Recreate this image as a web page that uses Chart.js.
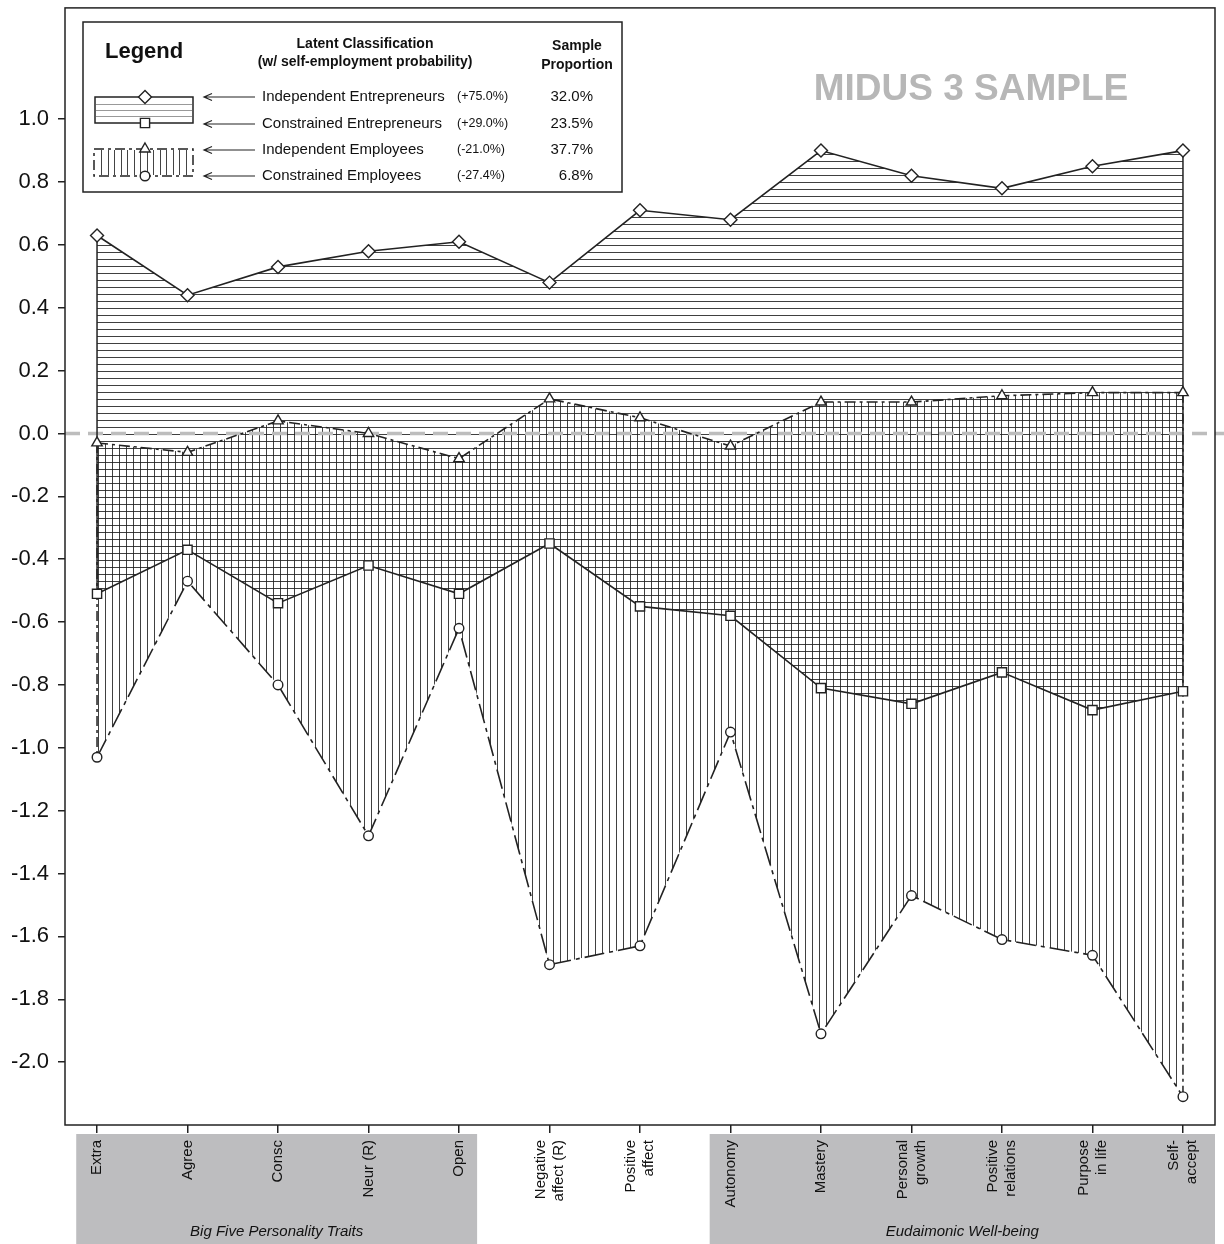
<!DOCTYPE html>
<html>
<head>
<meta charset="utf-8">
<title>MIDUS 3 latent profiles</title>
<script src="https://cdn.jsdelivr.net/npm/chart.js@4.4.0/dist/chart.umd.min.js"></script>
<style>
  html, body { margin: 0; padding: 0; background: #fff; }
  #wrap { width: 1224px; height: 1244px; position: relative; }
</style>
</head>
<body>
<div id="wrap"><canvas id="profileChart"></canvas></div>
<script>
// categories (x axis), multi-line where the original wraps
const categories = [
  ['Extra'], ['Agree'], ['Consc'], ['Neur (R)'], ['Open'],
  ['Negative', 'affect (R)'], ['Positive', 'affect'],
  ['Autonomy'], ['Mastery'], ['Personal', 'growth'], ['Positive', 'relations'],
  ['Purpose', 'in life'], ['Self-', 'accept']
];

// profile means per latent class
const indepEntrepreneurs  = [0.63, 0.44, 0.53, 0.58, 0.61, 0.48, 0.71, 0.68, 0.90, 0.82, 0.78, 0.85, 0.90];
const constrEntrepreneurs = [-0.51, -0.37, -0.54, -0.42, -0.51, -0.35, -0.55, -0.58, -0.81, -0.86, -0.76, -0.88, -0.82];
const indepEmployees      = [-0.03, -0.06, 0.04, 0.00, -0.08, 0.11, 0.05, -0.04, 0.10, 0.10, 0.12, 0.13, 0.13];
const constrEmployees     = [-1.03, -0.47, -0.80, -1.28, -0.62, -1.69, -1.63, -0.95, -1.91, -1.47, -1.61, -1.66, -2.11];

const yTicks = [1.0, 0.8, 0.6, 0.4, 0.2, 0.0, -0.2, -0.4, -0.6, -0.8, -1.0, -1.2, -1.4, -1.6, -1.8, -2.0];

// legend text
const legendNames  = ['Independent Entrepreneurs', 'Constrained Entrepreneurs', 'Independent Employees', 'Constrained Employees'];
const legendProbs  = ['(+75.0%)', '(+29.0%)', '(-21.0%)', '(-27.4%)'];
const legendShares = ['32.0%', '23.5%', '37.7%', '6.8%'];

// category groups shown as grey bands under the axis
const groupNames = ['Big Five Personality Traits', 'Eudaimonic Well-being'];
const groupFrom  = [0, 7];
const groupTo    = [4, 12];

const FONT = "'Liberation Sans', Arial, Helvetica, sans-serif";
Chart.defaults.font.family = FONT;

const canvas = document.getElementById('profileChart');
const ctx0 = canvas.getContext('2d');

// hatch patterns for the two pairs of classes
function makeHatch(dir) {
  const c = document.createElement('canvas');
  c.width = 7; c.height = 7;
  const g = c.getContext('2d');
  g.strokeStyle = 'rgba(30,30,30,0.85)';
  g.lineWidth = 1;
  g.beginPath();
  if (dir === 'h') { g.moveTo(0, 0.5); g.lineTo(7, 0.5); }
  else { g.moveTo(0.5, 0); g.lineTo(0.5, 7); }
  g.stroke();
  return ctx0.createPattern(c, 'repeat');
}
const hPattern = makeHatch('h');
const vPattern = makeHatch('v');

const toXY = arr => arr.map((v, i) => ({ x: i, y: v }));

// grey bands, group titles and rotated category labels under the axis
const groupBands = {
  id: 'groupBands',
  beforeDraw(chart) {
    const { ctx, scales: { x }, chartArea } = chart;
    ctx.save();
    for (let g = 0; g < groupNames.length; g++) {
      const left = x.getPixelForValue(groupFrom[g] - 0.23);
      let right = x.getPixelForValue(groupTo[g] + 0.2);
      if (groupTo[g] === categories.length - 1) right = chartArea.right;
      const top = chartArea.bottom + 9;
      ctx.fillStyle = '#bdbdbf';
      ctx.fillRect(left, top, right - left, chart.height - top);
      ctx.fillStyle = '#111';
      ctx.font = 'italic 15px ' + FONT;
      ctx.textAlign = 'center';
      ctx.textBaseline = 'middle';
      ctx.fillText(groupNames[g], (left + right) / 2, 1232);
    }
    // category labels, rotated to read bottom-to-top
    ctx.font = '15px ' + FONT;
    ctx.fillStyle = '#111';
    ctx.textAlign = 'right';
    ctx.textBaseline = 'middle';
    categories.forEach((lines, i) => {
      const px = x.getPixelForValue(i);
      lines.forEach((txt, j) => {
        const off = (j - (lines.length - 1) / 2) * 18;
        ctx.save();
        ctx.translate(px + off, chartArea.bottom + 15);
        ctx.rotate(-Math.PI / 2);
        ctx.fillText(txt, 0, 0);
        ctx.restore();
      });
    });
    ctx.restore();
  }
};

// zero reference line and closing edges of the hatched areas
const extras = {
  id: 'extras',
  beforeDatasetsDraw(chart) {
    const { ctx, scales: { x, y }, chartArea } = chart;
    ctx.save();
    // dashed zero line
    const y0 = y.getPixelForValue(0);
    ctx.strokeStyle = '#bdbdbd';
    ctx.lineWidth = 3.5;
    ctx.setLineDash([15, 8]);
    ctx.beginPath();
    ctx.moveTo(chartArea.left, y0);
    ctx.lineTo(chart.width, y0);
    ctx.stroke();
    // vertical edges at first / last category
    const last = categories.length - 1;
    [0, last].forEach(i => {
      const px = x.getPixelForValue(i);
      ctx.strokeStyle = '#222';
      ctx.lineWidth = 1.5;
      ctx.setLineDash([]);
      ctx.beginPath();
      ctx.moveTo(px, y.getPixelForValue(indepEntrepreneurs[i]));
      ctx.lineTo(px, y.getPixelForValue(constrEntrepreneurs[i]));
      ctx.stroke();
      ctx.setLineDash([10, 4, 3, 4]);
      ctx.beginPath();
      ctx.moveTo(px, y.getPixelForValue(indepEmployees[i]));
      ctx.lineTo(px, y.getPixelForValue(constrEmployees[i]));
      ctx.stroke();
    });
    ctx.restore();
  },
  afterDraw(chart) {
    const { ctx, chartArea } = chart;
    ctx.save();
    // plot frame
    ctx.strokeStyle = '#222';
    ctx.lineWidth = 1.5;
    ctx.strokeRect(chartArea.left, chartArea.top, chartArea.right - chartArea.left, chartArea.bottom - chartArea.top);

    // sample title
    ctx.fillStyle = '#b7b7b7';
    ctx.font = 'bold 37px ' + FONT;
    ctx.textAlign = 'center';
    ctx.textBaseline = 'middle';
    ctx.fillText('MIDUS 3 SAMPLE', 971, 90);

    // legend box
    ctx.fillStyle = '#fff';
    ctx.fillRect(83, 22, 539, 170);
    ctx.strokeRect(83, 22, 539, 170);
    ctx.fillStyle = '#111';
    ctx.textAlign = 'left';
    ctx.font = 'bold 22px ' + FONT;
    ctx.fillText('Legend', 105, 52);
    ctx.textAlign = 'center';
    ctx.font = 'bold 14px ' + FONT;
    ctx.fillText('Latent Classification', 365, 44);
    ctx.fillText('(w/ self-employment probability)', 365, 62);
    ctx.fillText('Sample', 577, 46);
    ctx.fillText('Proportion', 577, 65);

    const rowY = [97, 124, 150, 176];
    for (let r = 0; r < 4; r++) {
      const yy = rowY[r];
      ctx.strokeStyle = '#222';
      ctx.lineWidth = 1.2;
      ctx.setLineDash([]);
      ctx.beginPath();
      ctx.moveTo(204, yy); ctx.lineTo(255, yy);
      ctx.moveTo(212, yy - 3.5); ctx.lineTo(204, yy); ctx.lineTo(212, yy + 3.5);
      ctx.stroke();
      ctx.fillStyle = '#111';
      ctx.textAlign = 'left';
      ctx.font = '15px ' + FONT;
      ctx.fillText(legendNames[r], 262, yy);
      ctx.font = '12.5px ' + FONT;
      ctx.fillText(legendProbs[r], 457, yy);
      ctx.textAlign = 'right';
      ctx.font = '15px ' + FONT;
      ctx.fillText(legendShares[r], 593, yy);
    }

    // symbol: entrepreneurs (horizontal hatch, solid)
    ctx.strokeStyle = '#999';
    ctx.lineWidth = 1;
    [104, 110, 116].forEach(yy => {
      ctx.beginPath(); ctx.moveTo(96, yy + 0.5); ctx.lineTo(192, yy + 0.5); ctx.stroke();
    });
    ctx.strokeStyle = '#222';
    ctx.lineWidth = 1.5;
    ctx.strokeRect(95, 97, 98, 26);
    // symbol: employees (vertical hatch, dashed)
    ctx.strokeStyle = '#444';
    ctx.lineWidth = 1;
    for (let xx = 101; xx < 190; xx += 6.5) {
      ctx.beginPath(); ctx.moveTo(Math.round(xx) + 0.5, 150); ctx.lineTo(Math.round(xx) + 0.5, 175); ctx.stroke();
    }
    ctx.strokeStyle = '#222';
    ctx.lineWidth = 1.5;
    ctx.setLineDash([10, 4, 3, 4]);
    ctx.strokeRect(94, 149, 99, 27);
    ctx.setLineDash([]);

    const pts = [
      ['rectRot', 6.5, 145, 97], ['rect', 6.5, 145, 123],
      ['triangle', 6, 145, 149], ['circle', 4.8, 145, 176]
    ];
    ctx.fillStyle = '#fff';
    ctx.strokeStyle = '#222';
    ctx.lineWidth = 1.4;
    pts.forEach(p => {
      Chart.helpers.drawPoint(ctx, { pointStyle: p[0], radius: p[1], rotation: 0, borderWidth: 1.4 }, p[2], p[3]);
    });
    ctx.restore();
  }
};

const lineBase = {
  borderColor: '#222',
  borderWidth: 1.6,
  tension: 0,
  pointBackgroundColor: '#fff',
  pointBorderColor: '#222',
  pointBorderWidth: 1.4,
  pointHoverRadius: 6
};

new Chart(canvas, {
  type: 'line',
  data: {
    datasets: [
      Object.assign({}, lineBase, {
        label: legendNames[0], data: toXY(indepEntrepreneurs),
        pointStyle: 'rectRot', pointRadius: 6.5,
        backgroundColor: hPattern, fill: { target: 1 }
      }),
      Object.assign({}, lineBase, {
        label: legendNames[1], data: toXY(constrEntrepreneurs),
        pointStyle: 'rect', pointRadius: 6.5,
        backgroundColor: 'transparent', fill: false
      }),
      Object.assign({}, lineBase, {
        label: legendNames[2], data: toXY(indepEmployees),
        pointStyle: 'triangle', pointRadius: 6, borderDash: [11, 4, 3, 4],
        backgroundColor: vPattern, fill: { target: 3 }
      }),
      Object.assign({}, lineBase, {
        label: legendNames[3], data: toXY(constrEmployees),
        pointStyle: 'circle', pointRadius: 4.8, borderDash: [20, 5, 4, 5],
        backgroundColor: 'transparent', fill: false
      })
    ]
  },
  options: {
    responsive: true,
    maintainAspectRatio: false,
    animation: false,
    layout: { padding: { top: 2, right: 9, left: 0, bottom: 0 } },
    plugins: {
      legend: { display: false },
      tooltip: { enabled: false },
      filler: { drawTime: 'beforeDatasetsDraw' }
    },
    scales: {
      x: {
        type: 'linear',
        min: -0.354,
        max: 12.354,
        afterBuildTicks: s => { s.ticks = categories.map((c, i) => ({ value: i })); },
        afterFit: s => { s.height = 119; s.paddingLeft = 0; s.paddingRight = 0; },
        ticks: { display: false },
        grid: { drawOnChartArea: false, drawTicks: true, tickLength: 8, color: '#222', lineWidth: 1.5 },
        border: { display: false }
      },
      y: {
        min: -2.2,
        max: 1.354,
        afterBuildTicks: s => { s.ticks = yTicks.map(v => ({ value: v })); },
        afterFit: s => { s.width = 65; s.paddingTop = 0; s.paddingBottom = 0; },
        ticks: {
          padding: 9,
          color: '#111',
          font: { size: 22 },
          callback: v => v.toFixed(1)
        },
        grid: { drawOnChartArea: false, tickLength: 7, color: '#222', lineWidth: 1.5 },
        border: { display: false }
      }
    }
  },
  plugins: [groupBands, extras]
});
</script>
</body>
</html>
